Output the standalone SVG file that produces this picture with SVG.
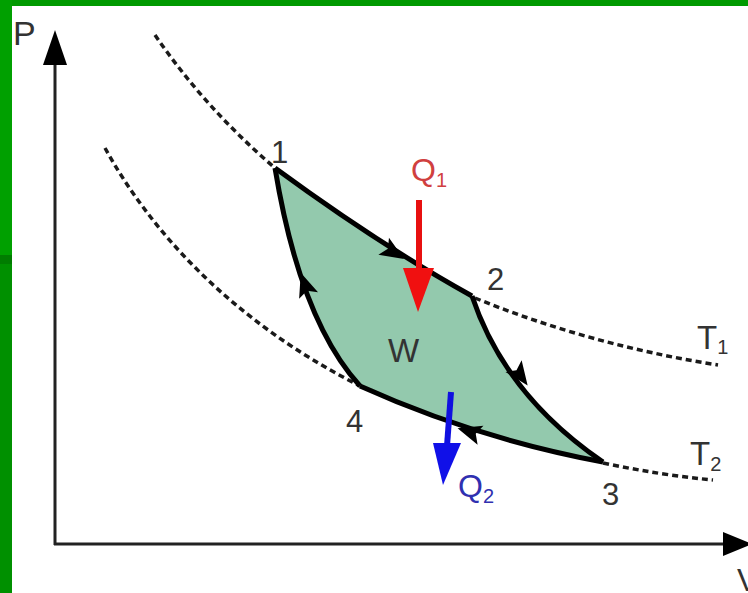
<svg xmlns="http://www.w3.org/2000/svg" width="748" height="593" viewBox="0 0 748 593">
<style>
.txt{font-family:"Liberation Sans",Arial,sans-serif;fill:#333;}
.dash{fill:none;stroke:#1a1a1a;stroke-width:3.5;stroke-dasharray:6 4;}
.axis{stroke:#222;stroke-width:3;fill:none;}
.edge{fill:none;stroke:#000;stroke-width:5;stroke-linejoin:round;}
</style>
<defs>
<polygon id="ah" points="13,0 -11,-10 -6,0 -11,10" fill="#000"/>
</defs>
<rect x="0" y="0" width="748" height="593" fill="#fff"/>
<g id="frame">
<rect x="0" y="0" width="748" height="6" fill="#009a00"/>
<rect x="0" y="0" width="12" height="256" fill="#00a000"/>
<rect x="0" y="255" width="12" height="9" fill="#007d00"/>
<rect x="0" y="264" width="12" height="329" fill="#009000"/>
</g>
<g id="axes">
<line class="axis" x1="55" y1="60" x2="55" y2="545"/>
<polygon points="55,30 43,65 67,65" fill="#000"/>
<line class="axis" x1="54" y1="544" x2="728" y2="544"/>
<polygon points="752,544 723,532 723,556" fill="#000"/>
<text class="txt" x="13" y="45" font-size="34">P</text>
<text class="txt" x="737" y="591" font-size="32">V</text>
</g>
<g id="isotherms">
<path class="dash" d="M155,35 Q205,108 275,168"/>
<path class="dash" d="M475,298 Q590,345 718,365"/>
<path class="dash" d="M105,148 C150,230 230,320 360,386"/>
<path class="dash" d="M603,463 Q660,475 713,480"/>
</g>
<g id="cycle">
<path d="M275,168 Q380,245 472,296 Q505,395 603,462 Q475,438 360,386 Q300,320 275,168 Z" fill="#93c9ad" stroke="none"/>
</g>
<g id="connectors">
<path class="edge" d="M275,168 Q380,245 472,296"/>
<path class="edge" d="M472,296 Q505,395 603,462"/>
<path class="edge" d="M603,462 Q475,438 360,386"/>
<path class="edge" d="M360,386 Q300,320 275,168"/>
<use href="#ah" transform="translate(393,252) rotate(32)"/>
<use href="#ah" transform="translate(520,375) rotate(54)"/>
<use href="#ah" transform="translate(470,432) rotate(197)"/>
<use href="#ah" transform="translate(305,285) rotate(251)"/>
<line x1="419" y1="200" x2="419" y2="272" stroke="#e81010" stroke-width="6"/>
<polygon points="403,268 434,268 418,312" fill="#f01010"/>
<line x1="451" y1="392" x2="447" y2="446" stroke="#1010e0" stroke-width="6"/>
<polygon points="433,443 461,443 443,485" fill="#1010e8"/>
</g>
<g id="point1"><text class="txt" x="271" y="163" font-size="31">1</text></g>
<g id="point2"><text class="txt" x="487" y="290" font-size="31">2</text></g>
<g id="point3"><text class="txt" x="602" y="505" font-size="31">3</text></g>
<g id="point4"><text class="txt" x="346" y="432" font-size="31">4</text></g>
<g id="labels">
<text class="txt" x="411" y="181" font-size="32" style="fill:#d0403f">Q<tspan font-size="20" dy="6">1</tspan></text>
<text class="txt" x="458" y="497" font-size="32" style="fill:#3030b0">Q<tspan font-size="20" dy="6">2</tspan></text>
<text class="txt" x="388" y="362" font-size="33">W</text>
<text class="txt" x="697" y="349" font-size="33">T<tspan font-size="20" dy="5">1</tspan></text>
<text class="txt" x="690" y="465" font-size="33">T<tspan font-size="20" dy="6">2</tspan></text>
</g>
</svg>
